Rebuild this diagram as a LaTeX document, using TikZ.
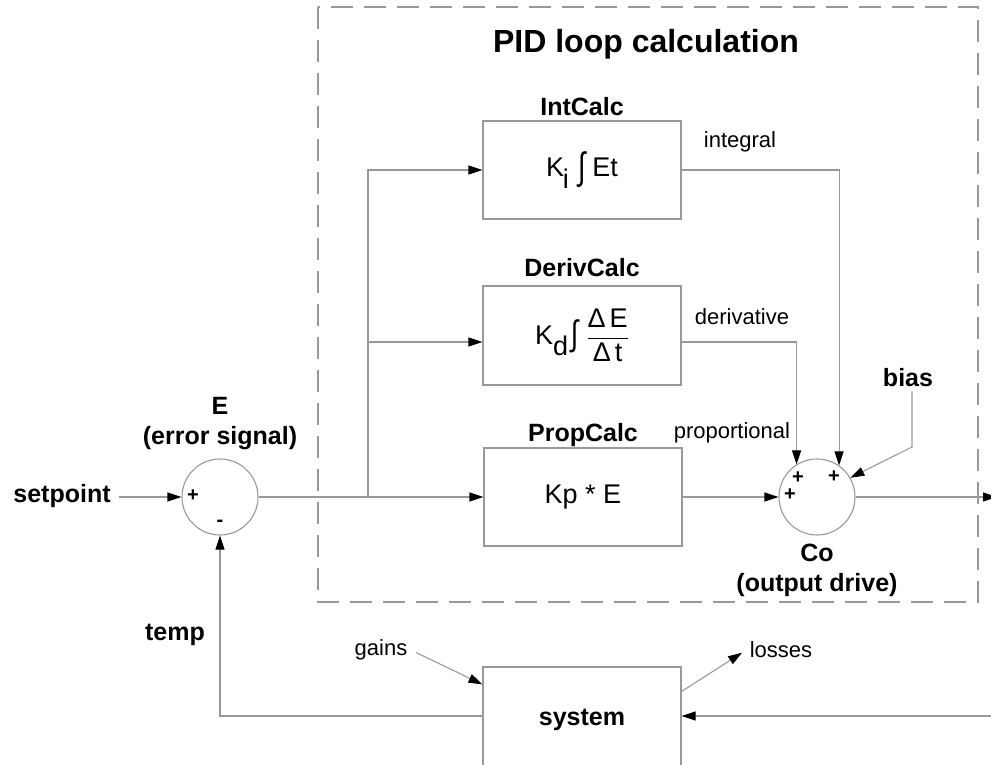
\documentclass[tikz,border=0pt]{standalone}
\usepackage{fontspec}
\usepackage{amsmath}
\usepackage{graphicx}
\setmainfont{Liberation Sans}
\usetikzlibrary{arrows.meta,positioning}

\tikzset{
  wire/.style={draw=black!40, line width=1.1pt},
  sig/.style={wire, -{Triangle[length=14pt,width=9pt,color=black]}},
  block/.style={draw=black!40, line width=1.1pt, minimum width=198pt,
    minimum height=98pt, inner sep=0pt, font=\fontsize{27}{31}\selectfont},
  junction/.style={circle, draw=black!40, line width=1.1pt,
    minimum size=76pt, inner sep=0pt},
  blocklabel/.style={font=\fontsize{25}{30}\bfseries\selectfont,
    inner sep=0pt, text depth=0pt},
  siglabel/.style={font=\fontsize{22}{26}\selectfont},
  sign/.style={font=\fontsize{20}{20}\bfseries\selectfont, inner sep=0pt},
}

\begin{document}
\begin{tikzpicture}[x=1pt,y=-1pt]
    \useasboundingbox (0,0) rectangle (991,765);

    % PID loop frame
    \draw[draw=black!40, line width=1.1pt, dash pattern=on 22pt off 11pt]
        (318,7) rectangle (978,602);
    \node[font=\fontsize{32}{36}\bfseries\selectfont] (title) at (646,44)
        {PID loop calculation};

    % blocks
    \node[block] (int) at (582,170)
        {K\kern-0.05em\raisebox{-0.45em}{i}\kern0.35em\raisebox{-0.1em}{\scalebox{1}[1.4]{∫}}\kern0.25em Et};
    \node[block, minimum height=99pt] (deriv) at (582,335.5)
        {K\raisebox{-0.4em}{d}\kern0.1em\raisebox{-0.05em}{\scalebox{1}[1.3]{∫}}\kern0.3em%
         $\displaystyle\frac{\text{Δ\kern0.15em E}}{\text{Δ\kern0.15em t}}$};
    \node[block] (prop) at (583,497) {Kp * E};
    \node[block, minimum height=106pt,
        font=\fontsize{25}{30}\bfseries\selectfont] (sys) at (582,720) {system};

    \node[blocklabel, above=5pt of int] (intname) {IntCalc};
    \node[blocklabel, above=9pt of deriv] (derivname) {DerivCalc};
    \node[blocklabel, above=6pt of prop] (propname) {PropCalc};

    % summing junctions
    \node[junction] (esum) at (220,497) {};
    \node[junction] (csum) at (817,497) {};
    \node[sign] (eplus) at (193,496) {+};
    \node[sign] (eminus) at (220,523) {-};
    \node[sign] (cplusa) at (798,478) {+};
    \node[sign] (cplusb) at (790,495) {+};
    \node[sign] (cplusc) at (834,477) {+};

    % labels
    \node[blocklabel, anchor=base] (setpt) at (62,502) {setpoint};
    \node[blocklabel, align=center] (elabel) at (220,421)
        {E\\(error signal)};
    \node[blocklabel, align=center] (colabel) at (817,568)
        {Co\\(output drive)};
    \node[blocklabel] (bias) at (908,377) {bias};
    \node[blocklabel] (temp) at (175,632) {temp};
    \node[siglabel] (intlabel) at (740,142) {integral};
    \node[siglabel] (derivlabel) at (742,317) {derivative};
    \node[siglabel] (proplabel) at (732,433) {proportional};
    \node[siglabel] (gains) at (381,650) {gains};
    \node[siglabel] (losses) at (781,650) {losses};

    % connectors
    \coordinate (split) at (368,497);
    \coordinate (bknee) at (912,447);
    \coordinate (out) at (997,497);
    \coordinate (fbin) at (993,716);

    \draw[sig, shorten <=8pt] (setpt.east |- esum.west) -- (esum.west);
    \draw[sig] (esum.east) -- (prop.west);
    \draw[sig] (split) |- (int.west);
    \draw[sig] (split) |- ([yshift=-6.5pt]deriv.west);
    \draw[sig] (int.east) -| (csum.55);
    \draw[sig] ([yshift=-6.5pt]deriv.east) -| (csum.122);
    \draw[sig] (prop.east) -- (csum.west);
    \draw[sig, shorten <=5pt] (bknee |- bias.south) -- (bknee) -- (csum.30);
    \draw[sig] (csum.east) -- (out);

    % plant and feedback
    \draw[sig] (fbin) -- (sys.east |- fbin);
    \draw[sig] (sys.west |- fbin) -| (esum.south);
    \draw[sig, shorten <=6pt] (gains.east) -- ([yshift=-18pt]sys.north west);
    \draw[sig, shorten >=5pt] ([yshift=-25pt]sys.north east) -- (losses.west);
\end{tikzpicture}
\end{document}
